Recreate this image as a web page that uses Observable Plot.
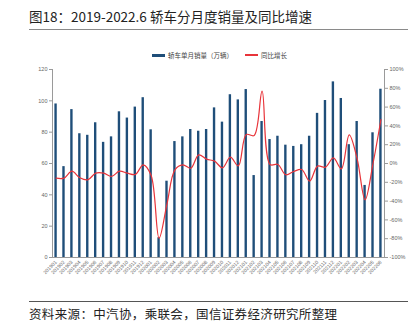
<!DOCTYPE html>
<html><head><meta charset="utf-8">
<script src="https://cdn.jsdelivr.net/npm/d3@7"></script>
<script src="https://cdn.jsdelivr.net/npm/@observablehq/plot@0.6"></script>
<style>
body{margin:0;background:#fff;width:412px;height:332px;overflow:hidden;position:relative;font-family:"Noto Sans CJK SC","Noto Sans",sans-serif;}
#title{position:absolute;left:29px;top:6px;font-size:13.5px;color:#222;white-space:nowrap;}
#tline{position:absolute;left:29px;top:29px;width:379px;height:0;border-top:1.5px solid #8a8a8a;}
#legend{position:absolute;left:152px;top:50px;font-size:6.5px;color:#444;white-space:nowrap;display:flex;align-items:center;}
.sw{display:inline-block;width:13px;margin-right:3px;}
#chart{position:absolute;left:0;top:40px;}
#fline{position:absolute;left:29px;top:301px;width:379px;height:0;border-top:1.2px solid #555;}
#foot{position:absolute;left:29px;top:304px;font-size:12.5px;letter-spacing:0.35px;color:#222;white-space:nowrap;}
</style></head>
<body>
<div id="title">图18：2019-2022.6 轿车分月度销量及同比增速</div>
<div id="tline"></div>
<div id="legend"><span class="sw" style="height:3px;background:#1f4e79"></span><span>轿车单月销量（万辆）</span><span class="sw" style="height:2px;background:#e8343a;margin-left:12px"></span><span>同比增长</span></div>
<div id="chart"></div>
<div id="fline"></div>
<div id="foot">资料来源：中汽协，乘联会，国信证券经济研究所整理</div>
<script>
const months = ["201901","201902","201903","201904","201905","201906","201907","201908","201909","201910","201911","201912",
"202001","202002","202003","202004","202005","202006","202007","202008","202009","202010","202011","202012",
"202101","202102","202103","202104","202105","202106","202107","202108","202109","202110","202111","202112",
"202201","202202","202203","202204","202205","202206"];
const sales = [98, 58, 94.4, 79, 78, 86, 73.5, 77, 93, 89, 96, 102,
81.5, 12.6, 48.7, 74, 77, 81.7, 80.6, 81.7, 95.5, 86.4, 103.9, 100.6,
107.2, 52.3, 86.8, 75.3, 77.4, 71.7, 70.9, 72, 77.4, 92, 100.2, 112.1,
101.5, 72, 86.8, 46, 79.6, 107.4];
const yoy = [-15.6, -15.6, -8.2, -15.2, -17.4, -10.3, -10.3, -13.8, -8.2, -10.3, -11.7, -1.4,
-12.8, -79.4, -43, -6.7, -1.4, -5, 9.2, 4.6, 2.5, -4.6, 6.7, -2.5,
30.8, 29.8, 77, -1, -1, -12, -8.5, -6.4, -18.8, -2.8, -3.9, 6,
-5.7, 30.5, 5, -38.6, 0, 46.8];
const leftTicks = [0, 20, 40, 60, 80, 100, 120];
const rightTicks = [-100, -80, -60, -40, -20, 0, 20, 40, 60, 80, 100];

const leftMax = 120;
const toLeft = p => (p + 100) / 200 * leftMax;
const fromLeft = v => Math.round(v / leftMax * 200 - 100);
const data = months.map((m, i) => ({m, s: sales[i], p: yoy[i]}));

const axisColor = "#9a9a9a";
const chart = Plot.plot({
  width: 412, height: 245,
  marginTop: 29, marginBottom: 28, marginLeft: 52, marginRight: 28,
  style: {fontFamily: "Arial, 'Liberation Sans', sans-serif", fontSize: "5.5px", color: "#666", background: "transparent"},
  x: {type: "band", domain: months, paddingInner: 0.7, paddingOuter: 0.3, axis: null},
  y: {domain: [0, leftMax], axis: null},
  marks: [
    Plot.barY(data, {x: "m", y: "s", fill: "#1f4e79"}),
    Plot.line(data, {x: "m", y: d => toLeft(d.p), stroke: "#e8343a", strokeWidth: 1.2, curve: "catmull-rom"}),
    Plot.frame({anchor: "left", stroke: axisColor}),
    Plot.frame({anchor: "right", stroke: axisColor}),
    Plot.ruleY([0], {stroke: axisColor}),
    Plot.axisY({anchor: "left", ticks: leftTicks, tickSize: 3, tickPadding: 2, stroke: axisColor, fontSize: 5.5, label: null}),
    Plot.axisY({anchor: "right", ticks: rightTicks.map(toLeft), tickFormat: v => fromLeft(v) + "%", tickSize: 3, tickPadding: 2, stroke: axisColor, fontSize: 5.5, label: null}),
    Plot.axisX({anchor: "bottom", tickRotate: -45, tickSize: 0, tickPadding: 4, fontSize: 5, label: null})
  ]
});
document.getElementById("chart").appendChild(chart);
</script>
</body></html>
